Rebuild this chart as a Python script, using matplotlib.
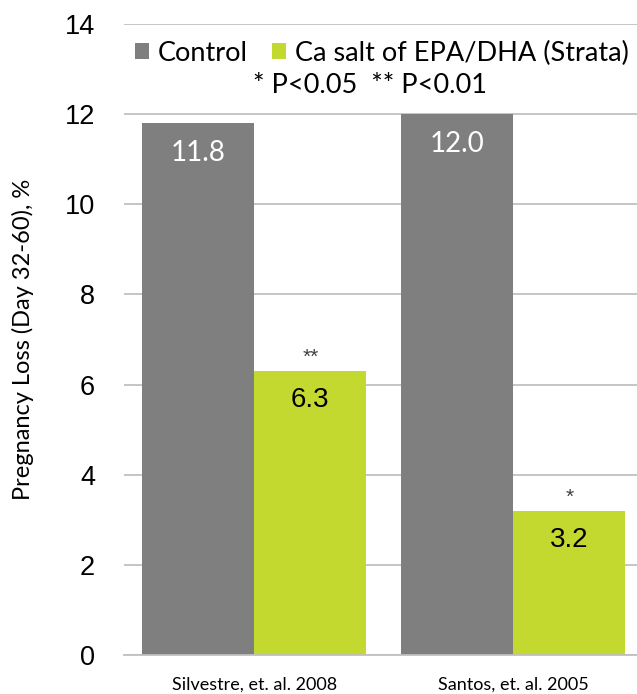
import matplotlib
matplotlib.use("Agg")
import matplotlib.pyplot as plt
import numpy as np

studies = ["Silvestre, et. al. 2008", "Santos, et. al. 2005"]
control = [11.8, 12.0]
strata = [6.3, 3.2]
strata_sig = ["**", "*"]
series_names = ["Control", "Ca salt of EPA/DHA (Strata)"]
yticks = [0, 2, 4, 6, 8, 10, 12, 14]

GREY = "#7f7f7f"
GREEN = "#c3d92f"

fig = plt.figure(figsize=(6.37, 6.94), dpi=100)
ax = fig.add_axes([0.195, 0.0555, 0.805, 0.9106])

x = np.arange(len(studies))
w = 0.433
b1 = ax.bar(x - w / 2, control, w, color=GREY, label=series_names[0], zorder=2)
b2 = ax.bar(x + w / 2, strata, w, color=GREEN, label=series_names[1], zorder=2)

ax.set_ylim(0, 14)
ax.set_xlim(-0.502, 1.478)
ax.set_yticks(yticks)
ax.set_yticklabels([str(t) for t in yticks], fontfamily="Liberation Sans", fontsize=19.5)
ax.yaxis.grid(True, color="#c0c0c0", linewidth=1.3, zorder=0)
ax.set_axisbelow(True)
ax.tick_params(axis="y", length=0, pad=21)
ax.set_xticks(x)
ax.set_xticklabels(studies, fontfamily="Lato", fontsize=13)
ax.tick_params(axis="x", length=0, pad=15)
for s in ["left", "right", "top"]:
    ax.spines[s].set_visible(False)
ax.spines["bottom"].set_color("#c0c0c0")
ax.spines["bottom"].set_linewidth(1.3)

ax.set_ylabel("Pregnancy Loss (Day 32-60), %", fontfamily="Lato", fontsize=17)
ax.yaxis.set_label_coords(-0.175, 0.5)

for rect, v in zip(b1, control):
    ax.annotate(f"{v:.1f}", (rect.get_x() + rect.get_width() / 2, v), xytext=(0, -22),
                textcoords="offset points", ha="center", va="center",
                color="white", fontsize=20, fontfamily="Lato")
for rect, v, sig in zip(b2, strata, strata_sig):
    cx = rect.get_x() + rect.get_width() / 2
    ax.annotate(f"{v:.1f}", (cx, v), xytext=(0, -21), textcoords="offset points",
                ha="center", va="center", color="black", fontsize=20, fontfamily="Liberation Sans")
    ax.annotate(sig, (cx, v), xytext=(0, 10), textcoords="offset points",
                ha="center", va="center", color="#404040", fontsize=15, fontfamily="Liberation Sans")

fig.legend(handles=[b1, b2], labels=series_names, loc="center",
           bbox_to_anchor=(0.600, 0.9236), ncol=2, frameon=False,
           prop={"family": "Lato", "size": 19.5}, handlelength=0.5, handleheight=0.5,
           handletextpad=0.35, columnspacing=0.9, borderaxespad=0, borderpad=0)
fig.text(0.581, 0.8775, "* P<0.05  ** P<0.01", ha="center", va="center",
         fontfamily="Lato", fontsize=19.5)

fig.savefig("out.png", dpi=100)
